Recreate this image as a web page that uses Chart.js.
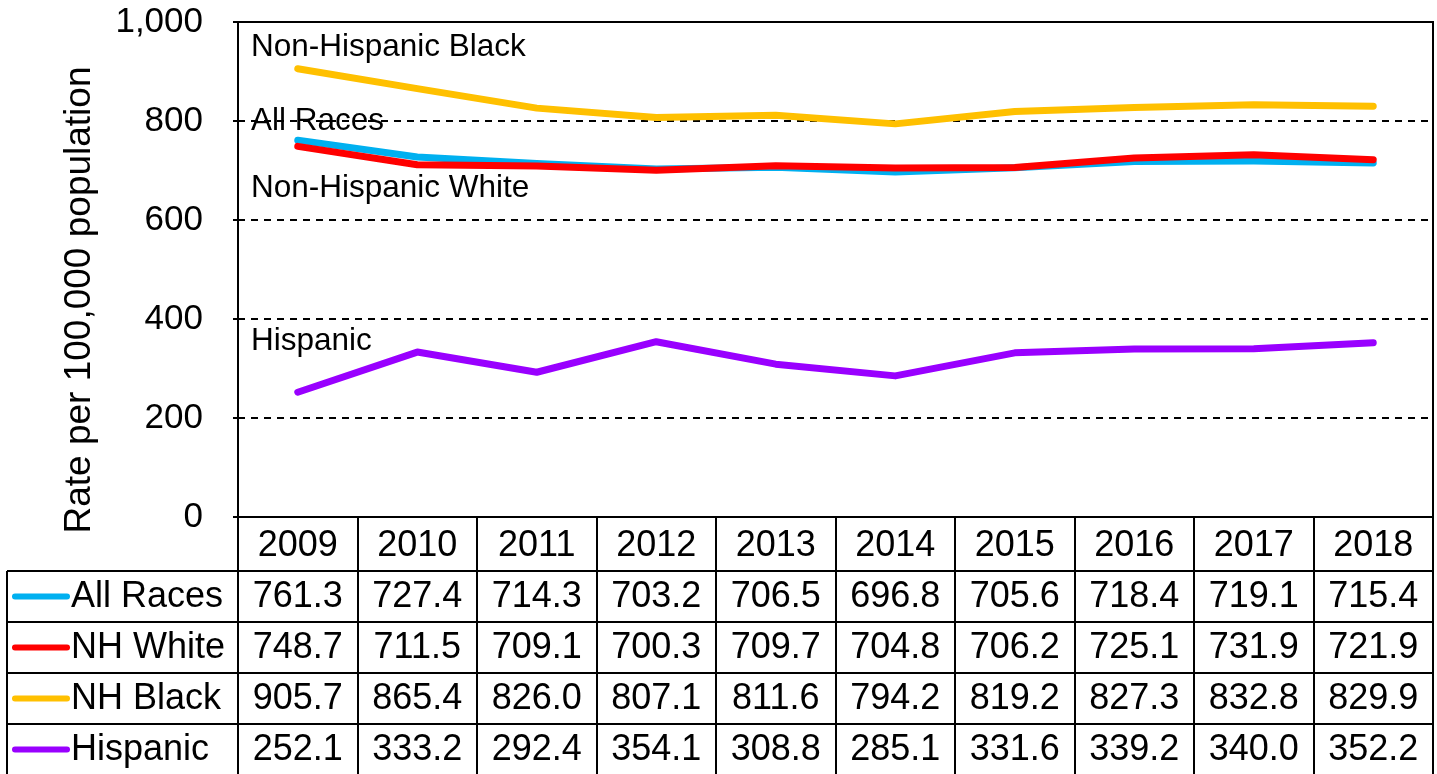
<!DOCTYPE html>
<html><head><meta charset="utf-8">
<script src="https://cdn.jsdelivr.net/npm/chart.js@4/dist/chart.umd.min.js"></script>
<style>html,body{margin:0;padding:0;background:#fff;overflow:hidden}#wrap{width:1437px;height:774px;position:relative}</style>
</head><body><div id="wrap"><canvas id="c" width="1437" height="774"></canvas></div>
<script>
const years = ['2009','2010','2011','2012','2013','2014','2015','2016','2017','2018'];
const allRaces = [761.3,727.4,714.3,703.2,706.5,696.8,705.6,718.4,719.1,715.4];
const nhWhite  = [748.7,711.5,709.1,700.3,709.7,704.8,706.2,725.1,731.9,721.9];
const nhBlack  = [905.7,865.4,826.0,807.1,811.6,794.2,819.2,827.3,832.8,829.9];
const hispanic = [252.1,333.2,292.4,354.1,308.8,285.1,331.6,339.2,340.0,352.2];
const seriesNames = ['All Races','NH White','NH Black','Hispanic'];
const seriesColors = ['#00B0F0','#FF0000','#FFC000','#9900FF'];
const lineLabels = ['Non-Hispanic Black','All Races','Non-Hispanic White','Hispanic'];
const yAxisTitle = 'Rate per 100,000 population';

const FONT = "'Liberation Sans', Arial, sans-serif";
const seriesData = [allRaces, nhWhite, nhBlack, hispanic];

const tablePlugin = {
  id: 'tablePlugin',
  afterDraw(chart) {
    const ctx = chart.ctx, ca = chart.chartArea, xs = chart.scales.x, ys = chart.scales.y;
    ctx.save();
    ctx.setLineDash([]);
    ctx.strokeStyle = '#000'; ctx.lineWidth = 2;
    ctx.strokeRect(ca.left, ca.top, ca.right - ca.left, ca.bottom - ca.top);

    ctx.fillStyle = '#000';
    ctx.font = '31.5px ' + FONT;
    ctx.textAlign = 'left'; ctx.textBaseline = 'middle';
    const labelVals = [948, 800, 664, 354];
    lineLabels.forEach((t, i) => ctx.fillText(t, ca.left + 13, ys.getPixelForValue(labelVals[i])));

    ctx.save();
    ctx.translate(80, 300);
    ctx.rotate(-Math.PI / 2);
    ctx.font = '37px ' + FONT;
    ctx.textAlign = 'center'; ctx.textBaseline = 'middle';
    ctx.fillText(yAxisTitle, 0, 0);
    ctx.restore();

    const n = years.length;
    const colW = (ca.right - ca.left) / n;
    const headerTop = ca.bottom, headerH = 54, rowH = 51;
    const rowsTop = headerTop + headerH;
    const leftEdge = 7;
    ctx.strokeStyle = '#000'; ctx.lineWidth = 2;
    ctx.beginPath();
    for (let i = 0; i <= n; i++) {
      const x = Math.round(ca.left + i * colW);
      ctx.moveTo(x, headerTop); ctx.lineTo(x, rowsTop + rowH * 4);
    }
    ctx.moveTo(leftEdge, rowsTop); ctx.lineTo(leftEdge, rowsTop + rowH * 4);
    for (let r = 0; r <= 4; r++) {
      const y = Math.round(rowsTop + r * rowH);
      ctx.moveTo(leftEdge, y); ctx.lineTo(ca.right, y);
    }
    ctx.stroke();

    ctx.font = '36px ' + FONT;
    ctx.textAlign = 'center'; ctx.textBaseline = 'middle';
    years.forEach((yr, i) => ctx.fillText(yr, xs.getPixelForValue(i), headerTop + headerH / 2 + 2));
    seriesData.forEach((arr, r) => {
      const cy = rowsTop + r * rowH + rowH / 2 + 1;
      arr.forEach((v, i) => ctx.fillText(v.toFixed(1), xs.getPixelForValue(i), cy));
    });
    seriesNames.forEach((nm, r) => {
      const cy = rowsTop + r * rowH + rowH / 2;
      ctx.strokeStyle = seriesColors[r]; ctx.lineWidth = 6; ctx.lineCap = 'round';
      ctx.beginPath(); ctx.moveTo(15, cy); ctx.lineTo(67, cy); ctx.stroke();
      ctx.fillStyle = '#000'; ctx.textAlign = 'left';
      ctx.fillText(nm, 71, cy + 1);
    });
    ctx.restore();
  }
};

new Chart(document.getElementById('c'), {
  type: 'line',
  data: {
    labels: years,
    datasets: seriesData.map((arr, i) => ({
      label: seriesNames[i],
      data: arr,
      borderColor: seriesColors[i],
      backgroundColor: seriesColors[i],
      borderWidth: 7,
      pointRadius: 0,
      tension: 0,
      borderCapStyle: 'round',
      borderJoinStyle: 'round',
      order: [1, 0, 2, 3][i]
    }))
  },
  options: {
    responsive: false,
    animation: false,
    devicePixelRatio: 1,
    layout: { autoPadding: false, padding: { top: 22, right: 4, bottom: 257, left: 0 } },
    plugins: { legend: { display: false }, tooltip: { enabled: false }, title: { display: false } },
    scales: {
      x: { type: 'category', offset: true, display: false },
      y: {
        min: 0, max: 1000,
        afterFit(scale) { scale.width = 238; scale.paddingTop = 0; scale.paddingBottom = 0; },
        ticks: { stepSize: 200, color: '#000', font: { size: 35, family: FONT }, padding: 30 },
        grid: { color: '#000', lineWidth: 2, tickLength: 5, drawTicks: true },
        border: { display: false, dash: [7, 6] }
      }
    }
  },
  plugins: [tablePlugin]
});
</script>
</body></html>
